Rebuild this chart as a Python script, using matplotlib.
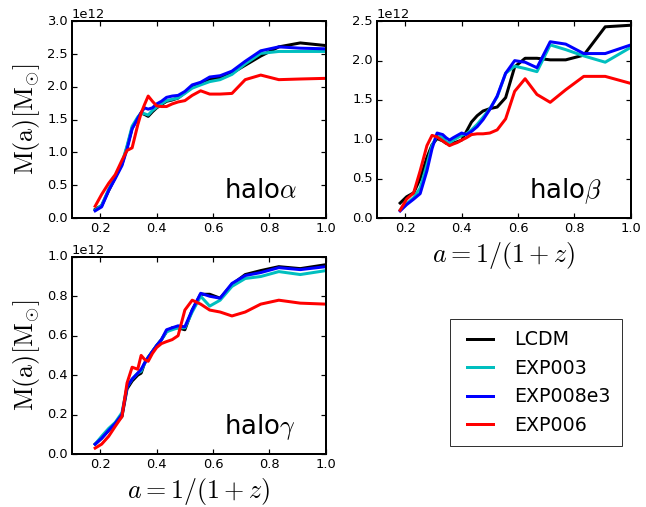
import numpy as np
import matplotlib
matplotlib.use('Agg')
import matplotlib.pyplot as plt

plt.style.use('classic')

# scale factor a of the snapshots
a = [0.182, 0.205, 0.23, 0.253, 0.277, 0.295, 0.313, 0.333, 0.345, 0.357,
     0.370, 0.385, 0.400, 0.417, 0.435, 0.455, 0.476, 0.500, 0.526, 0.556,
     0.588, 0.625, 0.667, 0.714, 0.769, 0.833, 0.909, 1.0]

# halo alpha, mass in 1e12 Msun
alpha_lcdm = [0.13, 0.19, 0.42, 0.62, 0.82, 1.08, 1.37, 1.52, 1.60, 1.58, 1.55, 1.62, 1.68, 1.73,
              1.78, 1.80, 1.83, 1.91, 2.00, 2.05, 2.12, 2.14, 2.21, 2.33, 2.47, 2.61, 2.67, 2.63]
alpha_exp003 = [0.12, 0.19, 0.44, 0.62, 0.84, 1.10, 1.40, 1.54, 1.60, 1.59, 1.57, 1.64, 1.69, 1.74,
                1.79, 1.81, 1.83, 1.90, 1.98, 2.03, 2.08, 2.11, 2.19, 2.35, 2.51, 2.54, 2.54, 2.54]
alpha_exp008e3 = [0.11, 0.17, 0.42, 0.60, 0.80, 1.05, 1.36, 1.52, 1.61, 1.68, 1.66, 1.68, 1.74, 1.78,
                  1.84, 1.86, 1.87, 1.93, 2.03, 2.07, 2.15, 2.17, 2.24, 2.39, 2.55, 2.61, 2.59, 2.58]
alpha_exp006 = [0.18, 0.36, 0.53, 0.66, 0.88, 1.03, 1.07, 1.42, 1.60, 1.73, 1.86, 1.78, 1.71, 1.70,
                1.70, 1.74, 1.77, 1.79, 1.87, 1.94, 1.89, 1.89, 1.90, 2.11, 2.18, 2.11, 2.12, 2.13]

# halo beta
beta_lcdm = [0.19, 0.27, 0.32, 0.50, 0.77, 0.93, 1.01, 0.98, 0.95, 0.94, 0.95, 0.97, 0.99, 1.10,
             1.22, 1.30, 1.36, 1.39, 1.41, 1.53, 1.92, 2.03, 2.03, 2.01, 2.01, 2.07, 2.43, 2.45]
beta_exp003 = [0.10, 0.18, 0.26, 0.38, 0.68, 0.92, 1.05, 1.02, 0.97, 0.95, 0.99, 1.02, 1.05, 1.07,
               1.12, 1.19, 1.28, 1.39, 1.54, 1.84, 1.93, 1.90, 1.86, 2.20, 2.14, 2.06, 1.98, 2.17]
beta_exp008e3 = [0.09, 0.17, 0.24, 0.31, 0.60, 0.88, 1.08, 1.06, 1.02, 0.99, 1.02, 1.05, 1.08, 1.06,
                 1.10, 1.16, 1.25, 1.38, 1.55, 1.84, 2.00, 1.98, 1.91, 2.24, 2.21, 2.09, 2.09, 2.20]
beta_exp006 = [0.10, 0.24, 0.32, 0.60, 0.92, 1.05, 1.03, 0.98, 0.95, 0.92, 0.94, 0.96, 0.99, 1.02,
               1.06, 1.07, 1.07, 1.08, 1.12, 1.26, 1.61, 1.77, 1.57, 1.47, 1.63, 1.80, 1.80, 1.71]

# halo gamma
gamma_lcdm = [0.05, 0.08, 0.12, 0.155, 0.19, 0.33, 0.37, 0.40, 0.41, 0.46, 0.49, 0.52, 0.55, 0.58,
              0.62, 0.64, 0.64, 0.63, 0.73, 0.81, 0.81, 0.79, 0.86, 0.91, 0.93, 0.95, 0.94, 0.96]
gamma_exp003 = [0.05, 0.09, 0.13, 0.16, 0.21, 0.34, 0.38, 0.41, 0.42, 0.46, 0.49, 0.52, 0.55, 0.58,
                0.62, 0.63, 0.64, 0.64, 0.72, 0.80, 0.75, 0.78, 0.85, 0.89, 0.90, 0.925, 0.91, 0.93]
gamma_exp008e3 = [0.05, 0.08, 0.12, 0.155, 0.20, 0.34, 0.38, 0.41, 0.43, 0.46, 0.49, 0.52, 0.55, 0.58,
                  0.63, 0.64, 0.65, 0.645, 0.73, 0.815, 0.80, 0.79, 0.865, 0.905, 0.92, 0.945, 0.935, 0.95]
gamma_exp006 = [0.03, 0.05, 0.09, 0.14, 0.19, 0.36, 0.44, 0.43, 0.50, 0.48, 0.47, 0.51, 0.54, 0.56,
                0.57, 0.58, 0.60, 0.73, 0.78, 0.76, 0.73, 0.72, 0.70, 0.72, 0.76, 0.78, 0.765, 0.76]

labels = ['LCDM', 'EXP003', 'EXP008e3', 'EXP006']
colors = ['k', 'c', 'b', 'r']

panels = [
    ([alpha_lcdm, alpha_exp003, alpha_exp008e3, alpha_exp006], r'halo$\alpha$', 3.0, 0.5),
    ([beta_lcdm, beta_exp003, beta_exp008e3, beta_exp006], r'halo$\beta$', 2.5, 0.5),
    ([gamma_lcdm, gamma_exp003, gamma_exp008e3, gamma_exp006], r'halo$\gamma$', 1.0, 0.2),
]
rects = [[0.1115, 0.570, 0.393, 0.388],
         [0.5836, 0.570, 0.393, 0.388],
         [0.1115, 0.1045, 0.393, 0.389]]

plt.rcParams['axes.linewidth'] = 2.0

fig = plt.figure(figsize=(646 / 72., 507 / 72.), dpi=72, facecolor='w')

handles = []
for i, (series, name, ymax, ystep) in enumerate(panels):
    ax = fig.add_axes(rects[i])
    for s, lab, c in zip(series, labels, colors):
        l, = ax.plot(a, np.array(s) * 1e12, color=c, lw=3, label=lab)
        if i == 0:
            handles.append(l)
    ax.set_xlim(0.1, 1.0)
    ax.set_ylim(0, ymax * 1e12)
    ax.set_xticks([0.2, 0.4, 0.6, 0.8, 1.0])
    ax.set_yticks(np.arange(0, ymax + 0.01, ystep) * 1e12)
    ax.tick_params(labelsize=13, direction='in', top=True, right=True, width=1.2, length=5)
    ax.yaxis.get_offset_text().set_fontsize(13)
    ax.text(0.6, 0.1, name, transform=ax.transAxes, fontsize=26)
    if i != 1:
        ax.set_ylabel(r'$\mathrm{M(a)[M_{\odot}]}$', fontsize=26)
    if i != 0:
        ax.set_xlabel(r'$a=1/(1+z)$', fontsize=26)

leg = fig.legend(handles, labels, loc='center', bbox_to_anchor=(0.8297, 0.2456),
                 fontsize=19, frameon=True, fancybox=False, borderpad=0.6)
leg.get_frame().set_edgecolor('0.2')

fig.savefig('out.png', dpi=72, facecolor='w')
